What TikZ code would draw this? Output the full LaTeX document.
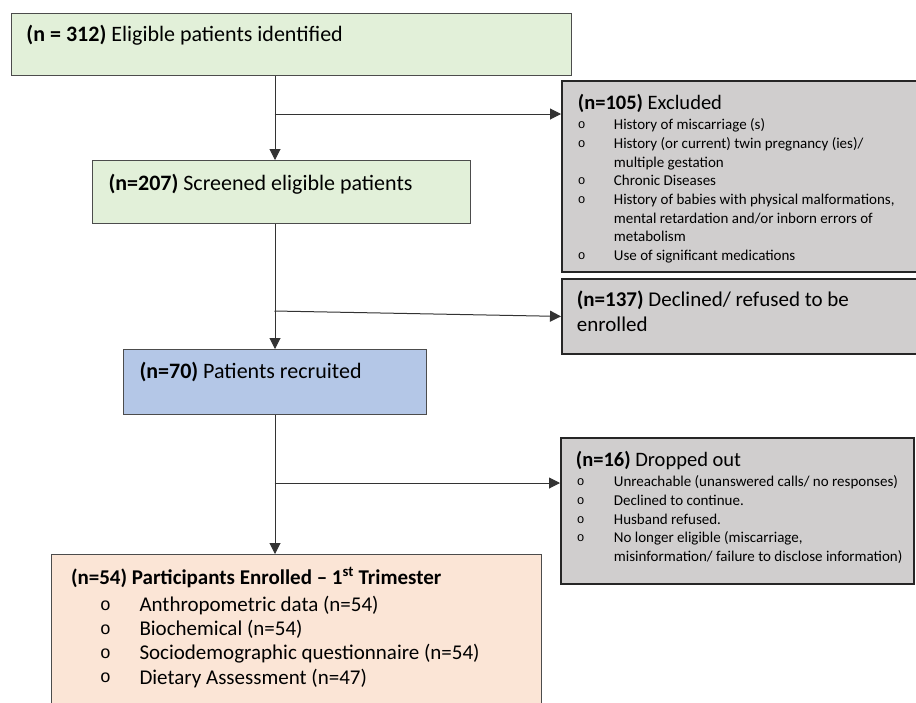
\documentclass[tikz,border=0pt]{standalone}
\usepackage{fontspec}
\setmainfont{Carlito}
\newfontfamily\bulletfont{Liberation Mono}
\usetikzlibrary{arrows.meta}
\definecolor{stagegreen}{HTML}{E2F0D9}
\definecolor{stageblue}{HTML}{B4C7E7}
\definecolor{stagepeach}{HTML}{FBE5D6}
\definecolor{outgrey}{HTML}{D0CECE}
\tikzset{stage/.style = {draw = black!70, line width = 1pt, anchor = north west, inner xsep = 16pt, inner ysep = 13pt, font = \fontsize{21}{25}\selectfont}}
\tikzset{outbox/.style = {stage, fill = outgrey, draw = black!85, line width = 1.8pt}}
\tikzset{flow/.style = {draw = black!80, line width = 1pt, -{Triangle[length = 11pt, width = 11pt]}}}
\makeatletter
\newcommand{\bulletglyph}{\raisebox{0.06em}{\bulletfont\fontsize{\strip@pt\dimexpr0.85\dimexpr\f@size pt\relax\relax}{0}\selectfont o}}
\makeatother
\newcommand{\boxtext}[3]{\parbox[t][#2][t]{#1}{\raggedright #3}}
\newcommand{\itemsize}{\fontsize{15}{18.7}\selectfont}
\newcommand{\listentry}[3]{\par\noindent\hangindent=#2\hangafter=1\makebox[#2][l]{\hspace*{#1}\bulletglyph}#3}

\begin{document}
\begin{tikzpicture}[x = 1pt, y = -1pt]
      \useasboundingbox (0, 0) rectangle (916, 702);
      \clip (0, 0) rectangle (916, 702);

      \node [stage, fill = stagegreen, inner xsep = 15pt, inner ysep = 12pt, font = \fontsize{22}{26}\selectfont] (identified) at (11, 12.7) {\boxtext{530pt}{38.3pt}{\textbf{(n = 312)} Eligible patients identified}};
      \node [stage, fill = stagegreen, inner ysep = 13.5pt, font = \fontsize{22}{26}\selectfont] (screened) at (92, 160) {\boxtext{346pt}{36pt}{\textbf{(n=207)} Screened eligible patients}};
      \node [stage, fill = stageblue, inner ysep = 12.5pt, font = \fontsize{22}{26}\selectfont] (recruited) at (123, 349) {\boxtext{271pt}{40pt}{\textbf{(n=70)} Patients recruited}};
      \node [stage, fill = stagepeach, inner xsep = 20pt] (enrolled) at (50.5, 554) {\boxtext{450.5pt}{154pt}{\textbf{(n=54) Participants Enrolled -- 1\textsuperscript{st} Trimester}\par\vspace{2.7pt}\fontsize{21}{24.3}\selectfont
        \listentry{29pt}{68.5pt}{Anthropometric data (n=54)}
        \listentry{29pt}{68.5pt}{Biochemical (n=54)}
        \listentry{29pt}{68.5pt}{Sociodemographic questionnaire (n=54)}
        \listentry{29pt}{68.5pt}{Dietary Assessment (n=47)}}};

      \node [outbox] (excluded) at (561, 80) {\boxtext{368pt}{165pt}{\fontsize{20.5}{24}\selectfont\textbf{(n=105)} Excluded\par\vspace{1.8pt}\itemsize
        \listentry{0pt}{36pt}{History of miscarriage (s)}
        \listentry{0pt}{36pt}{History (or current) twin pregnancy (ies)/\newline multiple gestation}
        \listentry{0pt}{36pt}{Chronic Diseases}
        \listentry{0pt}{36pt}{History of babies with physical malformations,\newline mental retardation and/or inborn errors of\newline metabolism}
        \listentry{0pt}{36pt}{Use of significant medications}}};
      \node [outbox, inner xsep = 15pt, inner ysep = 12pt] (declined) at (561, 278) {\boxtext{370pt}{51pt}{\textbf{(n=137)} Declined/ refused to be\newline enrolled}};
      \node [outbox, inner xsep = 15pt] (dropped) at (560, 437) {\boxtext{323pt}{120pt}{\fontsize{20.5}{24}\selectfont\textbf{(n=16)} Dropped out\par\vspace{1.8pt}\itemsize
        \listentry{1pt}{38pt}{Unreachable (unanswered calls/ no responses)}
        \listentry{1pt}{38pt}{Declined to continue.}
        \listentry{1pt}{38pt}{Husband refused.}
        \listentry{1pt}{38pt}{No longer eligible (miscarriage,\newline \mbox{misinformation/ failure to disclose information)}}}};

      \draw [flow] (identified.south -| recruited.north) -- (screened.north -| recruited.north);
      \draw [flow] (screened.south -| recruited.north) -- (recruited.north);
      \draw [flow] (recruited.south) -- (enrolled.north -| recruited.south);

      % side branches
      \coordinate (fork1) at (274.5, 114);
      \coordinate (fork2) at (274.5, 311);
      \coordinate (fork3) at (274.5, 483);
      \draw [flow] (fork1) -- (fork1 -| excluded.west);
      \draw [flow] (fork2) -- (declined.west);
      \draw [flow] (fork3) -- (fork3 -| dropped.west);
    \end{tikzpicture}
\end{document}
